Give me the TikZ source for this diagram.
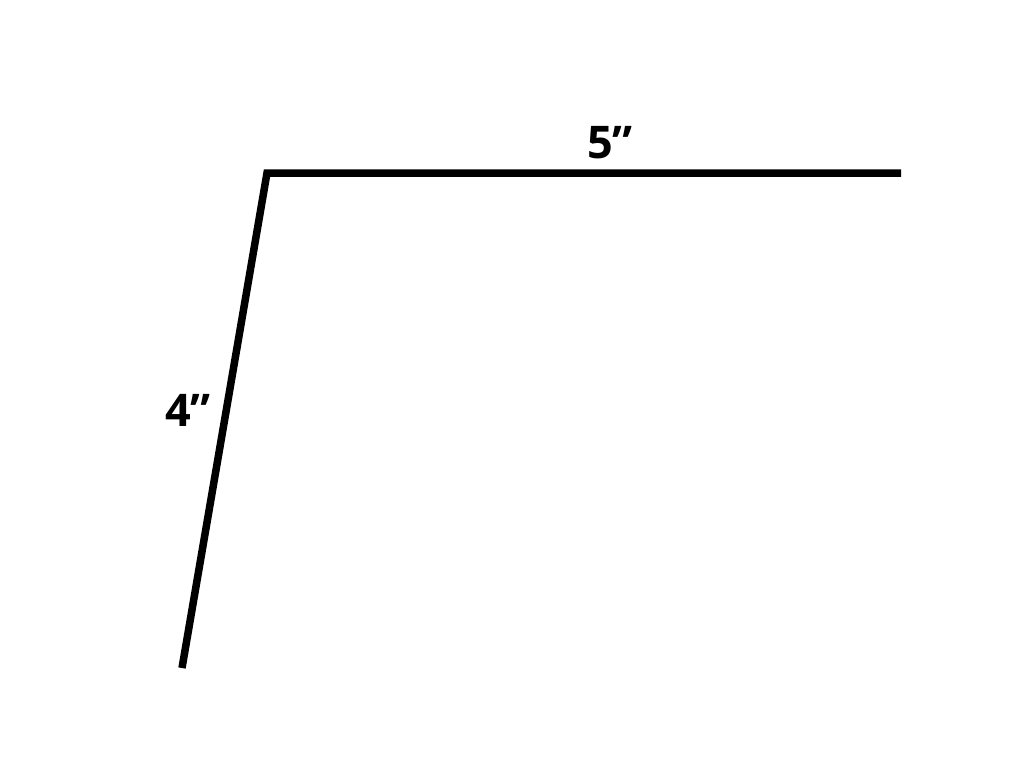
\documentclass[tikz,border=0pt]{standalone}
\usepackage{fontspec}
\setmainfont{Open Sans}
\begin{document}
\begin{tikzpicture}[x=1pt,y=-1pt,
  edge/.style={line width=7.5pt,line join=miter,line cap=butt,black},
  lbl/.style={font=\fontsize{45}{45}\selectfont\bfseries,inner sep=0pt}]
\useasboundingbox (0,0) rectangle (1024,768);
\coordinate (c) at (267,173);
\coordinate (r) at (901,173);
\coordinate (b) at (182,668);
\draw[edge] (r) -- (c) -- (b);
\node[lbl] (l5) at (610,143) {5”};
\node[lbl] (l4) at (188,410) {4”};
\end{tikzpicture}
\end{document}
